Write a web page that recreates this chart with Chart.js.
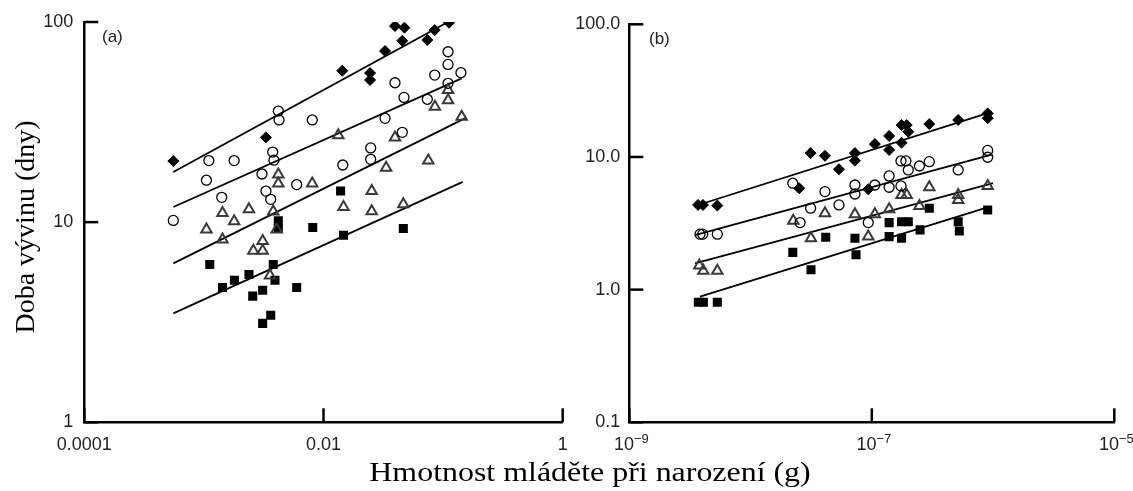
<!DOCTYPE html>
<html>
<head>
<meta charset="utf-8">
<script src="https://cdn.jsdelivr.net/npm/chart.js@4.4.0/dist/chart.umd.min.js"></script>
<style>
  html, body { margin:0; padding:0; background:#fff; }
  #wrap { position:relative; width:1133px; height:491px; overflow:hidden; background:#fff; }
  canvas { position:absolute; top:0; }
  #cA { left:0; }
  #cB { left:555px; }
  .lab { position:absolute; font-family:"Liberation Sans", Arial, sans-serif; font-size:17px; line-height:17px; color:#222; }
  .ttl { position:absolute; font-family:"Liberation Serif", "Times New Roman", serif; font-size:28px; line-height:28px; color:#000; white-space:nowrap; text-align:center; }
</style>
</head>
<body>
<div id="wrap">
  <canvas id="cA" width="580" height="470"></canvas>
  <canvas id="cB" width="578" height="470"></canvas>
  <div class="lab" style="left:102px; top:28px;">(a)</div>
  <div class="lab" style="left:649px; top:30px;">(b)</div>
  <div class="ttl" id="ytitle" style="left:-125px; top:213px; width:300px; transform:rotate(-90deg);">Doba vývinu (dny)</div>
  <div class="ttl" id="xtitle" style="left:290px; top:458px; width:600px; transform:scaleX(1.14);">Hmotnost mláděte při narození (g)</div>
</div>
<script>
// ---------- Panel (a) ----------
const aXTicks = [0.0001, 0.01, 1];
const aXLabels = ["0.0001", "0.01", "1"];
const aYTicks = [1, 10, 100];
const aYLabels = ["1", "10", "100"];

const aDiaX = [5.55e-4, 3.30e-3, 0.01436, 0.0245, 0.0245, 0.0327, 0.0396, 0.0475, 0.0456, 0.0738, 0.0851, 0.112];
const aDiaY = [20.2, 26.5, 57.1, 55.6, 51.3, 71.6, 95.5, 93.7, 80.6, 81.3, 91.2, 99.2];

const aCirX = [5.55e-4, 1.10e-3, 1.79e-3, 1.05e-3, 1.41e-3, 4.19e-3, 4.25e-3, 8.05e-3, 3.76e-3, 3.85e-3, 3.06e-3, 3.30e-3, 3.62e-3, 5.97e-3, 0.0145, 0.0248, 0.0248, 0.0327, 0.0396, 0.0456, 0.0471, 0.0738, 0.0851, 0.110, 0.110, 0.110, 0.141];
const aCirY = [10.2, 20.3, 20.3, 16.2, 13.3, 35.9, 32.4, 32.4, 22.4, 20.4, 17.4, 14.3, 13.0, 15.4, 19.3, 23.5, 20.6, 33.0, 49.7, 28.1, 42.0, 41.1, 54.3, 71.0, 61.4, 49.4, 55.8];

const aTriX = [1.05e-3, 1.43e-3, 1.43e-3, 1.79e-3, 2.38e-3, 2.59e-3, 3.10e-3, 3.10e-3, 3.57e-3, 3.80e-3, 4.06e-3, 4.19e-3, 4.19e-3, 8.05e-3, 0.0133, 0.0147, 0.0253, 0.0253, 0.0334, 0.0396, 0.0465, 0.0752, 0.0855, 0.110, 0.110, 0.143];
const aTriY = [9.19, 11.1, 8.19, 10.1, 11.6, 7.19, 8.06, 7.19, 5.41, 11.3, 9.19, 17.3, 15.6, 15.6, 27.2, 11.9, 14.3, 11.35, 18.7, 26.5, 12.3, 20.3, 37.7, 45.7, 40.7, 33.6];

const aSqX = [0.0139, 4.19e-3, 4.19e-3, 8.13e-3, 0.0465, 0.0147, 1.12e-3, 3.80e-3, 1.43e-3, 1.80e-3, 2.38e-3, 3.93e-3, 2.56e-3, 3.10e-3, 5.97e-3, 3.10e-3, 3.62e-3];
const aSqY = [14.3, 10.15, 9.30, 9.41, 9.30, 8.61, 6.14, 6.14, 4.72, 5.13, 5.48, 5.13, 4.27, 4.57, 4.72, 3.12, 3.43];

const aLineDiaX = [5.55e-4, 0.110], aLineDiaY = [17.8, 100];
const aLineCirX = [5.55e-4, 0.143], aLineCirY = [11.9, 52.3];
const aLineTriX = [5.55e-4, 0.152], aLineTriY = [6.22, 33.0];
const aLineSqX  = [5.55e-4, 0.146], aLineSqY  = [3.50, 15.9];

// ---------- Panel (b) ----------
const bXTicks = [1e-9, 1e-7, 1e-5];
const bXBase = ["10", "10", "10"];
const bXExp = ["\u22129", "\u22127", "\u22125"];
const bYTicks = [0.1, 1, 10, 100];
const bYLabels = ["0.1", "1.0", "10.0", "100.0"];

const bDiaX = [3.69e-9, 4.05e-9, 5.32e-9, 3.13e-8, 4.11e-8, 2.52e-8, 5.36e-8, 7.26e-8, 7.26e-8, 9.35e-8, 1.06e-7, 1.39e-7, 1.39e-7, 1.76e-7, 1.76e-7, 1.94e-7, 2.00e-7, 2.98e-7, 5.16e-7, 9.03e-7, 9.03e-7];
const bDiaY = [4.35, 4.35, 4.30, 10.7, 10.2, 5.81, 8.08, 10.7, 9.38, 5.71, 12.5, 14.4, 11.3, 12.8, 17.4, 17.4, 15.5, 17.7, 19.0, 21.3, 19.6];

const bCirX = [3.83e-9, 4.03e-9, 5.32e-9, 2.23e-8, 2.56e-8, 3.13e-8, 4.11e-8, 5.36e-8, 7.26e-8, 7.26e-8, 9.35e-8, 1.06e-7, 1.39e-7, 1.39e-7, 1.74e-7, 1.74e-7, 1.91e-7, 2.00e-7, 2.47e-7, 2.98e-7, 5.16e-7, 9.03e-7, 9.03e-7];
const bCirY = [2.62, 2.62, 2.62, 6.34, 3.20, 4.11, 5.48, 4.35, 6.15, 5.26, 3.20, 6.15, 7.19, 5.91, 6.05, 9.33, 9.33, 7.98, 8.55, 9.22, 7.98, 11.2, 9.95];

const bTriX = [3.78e-9, 4.08e-9, 5.32e-9, 2.25e-8, 3.15e-8, 4.11e-8, 7.26e-8, 9.35e-8, 1.06e-7, 1.39e-7, 1.76e-7, 1.94e-7, 2.47e-7, 2.98e-7, 5.16e-7, 5.16e-7, 9.03e-7];
const bTriY = [1.52, 1.39, 1.39, 3.31, 2.44, 3.76, 3.70, 2.51, 3.70, 4.04, 5.17, 5.17, 4.27, 5.91, 5.17, 4.74, 6.05];

const bSqX = [3.71e-9, 4.08e-9, 5.32e-9, 2.23e-8, 3.15e-8, 4.17e-8, 7.26e-8, 7.41e-8, 1.39e-7, 1.39e-7, 1.76e-7, 2.00e-7, 1.76e-7, 2.50e-7, 2.98e-7, 5.16e-7, 5.27e-7, 9.03e-7];
const bSqY = [0.804, 0.804, 0.804, 1.91, 1.41, 2.48, 2.44, 1.83, 3.20, 2.51, 3.25, 3.25, 2.44, 2.82, 4.11, 3.25, 2.77, 3.99];

const bLineDiaX = [3.48e-9, 9.75e-7], bLineDiaY = [4.27, 21.9];
const bLineCirX = [3.48e-9, 9.75e-7], bLineCirY = [2.58, 10.4];
const bLineTriX = [3.48e-9, 1.0e-6],  bLineTriY = [1.58, 6.34];
const bLineSqX  = [3.83e-9, 9.13e-7], bLineSqY  = [0.885, 4.18];

// ---------- helpers ----------
const pts = (xs, ys) => xs.map((x, i) => ({ x: x, y: ys[i] }));

const STYLES = {
  dia: { pointStyle: 'rectRot', pointRadius: 5.5, backgroundColor: '#000', borderColor: '#000', borderWidth: 1 },
  cir: { pointStyle: 'circle', pointRadius: 5, backgroundColor: 'rgba(255,255,255,0)', borderColor: '#000', borderWidth: 1.3 },
  tri: { pointStyle: 'triangle', pointRadius: 6, backgroundColor: 'rgba(255,255,255,0)', borderColor: '#3a3a3a', borderWidth: 2 },
  sq:  { pointStyle: 'rect', pointRadius: 6.4, backgroundColor: '#000', borderColor: '#000', borderWidth: 0 }
};

function scatterSet(xs, ys, st) {
  return Object.assign({ type: 'scatter', data: pts(xs, ys), showLine: false, pointHoverRadius: 0 }, STYLES[st]);
}
function lineSet(xs, ys) {
  return { type: 'line', data: pts(xs, ys), borderColor: '#000', borderWidth: 1.8, pointRadius: 0, fill: false, tension: 0 };
}

const FONT_FAMILY = '"Liberation Sans", Arial, sans-serif';
const tickFont = { family: FONT_FAMILY, size: 18 };

const innerTicks = {
  id: 'innerTicks',
  afterDraw(chart) {
    const { ctx, chartArea: a, scales } = chart;
    const x = scales.x, y = scales.y;
    ctx.save();
    ctx.strokeStyle = '#000';
    ctx.lineWidth = 2.5;
    ctx.lineCap = 'butt';
    x.ticks.forEach(t => {
      const px = x.getPixelForValue(t.value);
      ctx.beginPath(); ctx.moveTo(px, a.bottom); ctx.lineTo(px, a.bottom - 14); ctx.stroke();
    });
    y.ticks.forEach(t => {
      const py = y.getPixelForValue(t.value);
      ctx.beginPath(); ctx.moveTo(a.left, py); ctx.lineTo(a.left + 14, py); ctx.stroke();
    });
    // power-of-ten labels with superscript exponents
    const sup = chart.options.supLabels;
    if (sup) {
      ctx.fillStyle = '#222';
      ctx.textBaseline = 'alphabetic';
      ctx.textAlign = 'left';
      sup.ticks.forEach((v, i) => {
        const px = x.getPixelForValue(v);
        ctx.font = '18px ' + FONT_FAMILY;
        const wb = ctx.measureText(sup.base[i]).width;
        ctx.font = '13px ' + FONT_FAMILY;
        const we = ctx.measureText(sup.exp[i]).width;
        const x0 = px - (wb + we) / 2 + 2;
        const base = a.bottom + 28;
        ctx.font = '18px ' + FONT_FAMILY;
        ctx.fillText(sup.base[i], x0, base);
        ctx.font = '13px ' + FONT_FAMILY;
        ctx.fillText(sup.exp[i], x0 + wb, base - 7);
      });
    }
    ctx.restore();
  }
};

function makeChart(id, c) {
  const xT = c.xTicks, yT = c.yTicks;
  return new Chart(document.getElementById(id), {
    type: 'scatter',
    data: { datasets: c.datasets },
    plugins: [innerTicks],
    options: {
      responsive: false,
      animation: false,
      events: [],
      supLabels: c.sup || null,
      layout: { padding: c.pad },
      plugins: { legend: { display: false }, tooltip: { enabled: false } },
      scales: {
        x: {
          type: 'logarithmic', min: c.xMin, max: c.xMax,
          grid: { display: false, drawTicks: false },
          border: { display: true, color: '#000', width: 2.5 },
          afterBuildTicks: s => { s.ticks = xT.map(v => ({ value: v })); },
          afterFit: s => { s.height = 40; },
          ticks: {
            autoSkip: false, maxRotation: 0, padding: 12, color: '#222', font: tickFont,
            callback: (v) => {
              if (!c.xLabels) return '';
              const i = xT.findIndex(t => Math.abs(Math.log10(t) - Math.log10(v)) < 1e-6);
              return i >= 0 ? c.xLabels[i] : '';
            }
          }
        },
        y: {
          type: 'logarithmic', min: c.yMin, max: c.yMax,
          grid: { display: false, drawTicks: false },
          border: { display: true, color: '#000', width: 2.5 },
          afterBuildTicks: s => { s.ticks = yT.map(v => ({ value: v })); },
          afterFit: s => { s.width = c.yW; },
          ticks: {
            autoSkip: false, padding: c.yPad, color: '#222', font: tickFont,
            callback: (v) => { const i = yT.findIndex(t => Math.abs(Math.log10(t) - Math.log10(v)) < 1e-6); return i >= 0 ? c.yLabels[i] : ''; }
          }
        }
      }
    }
  });
}

makeChart('cA', {
  xMin: 0.0001, xMax: 1, yMin: 1, yMax: 100,
  xTicks: aXTicks, xLabels: aXLabels, yTicks: aYTicks, yLabels: aYLabels,
  pad: { left: 24.3, right: 17.3, top: 22, bottom: 7.7 },
  yW: 60, yPad: 11,
  datasets: [
    scatterSet(aDiaX, aDiaY, 'dia'),
    scatterSet(aCirX, aCirY, 'cir'),
    scatterSet(aTriX, aTriY, 'tri'),
    scatterSet(aSqX, aSqY, 'sq'),
    lineSet(aLineDiaX, aLineDiaY),
    lineSet(aLineCirX, aLineCirY),
    lineSet(aLineTriX, aLineTriY),
    lineSet(aLineSqX, aLineSqY)
  ]
});

makeChart('cB', {
  xMin: 1e-9, xMax: 1e-5, yMin: 0.1, yMax: 100,
  xTicks: bXTicks, xLabels: null, yTicks: bYTicks, yLabels: bYLabels,
  sup: { ticks: bXTicks, base: bXBase, exp: bXExp },
  pad: { left: 4.3, right: 18.7, top: 24.3, bottom: 7.7 },
  yW: 70, yPad: 9,
  datasets: [
    scatterSet(bDiaX, bDiaY, 'dia'),
    scatterSet(bCirX, bCirY, 'cir'),
    scatterSet(bTriX, bTriY, 'tri'),
    scatterSet(bSqX, bSqY, 'sq'),
    lineSet(bLineDiaX, bLineDiaY),
    lineSet(bLineCirX, bLineCirY),
    lineSet(bLineTriX, bLineTriY),
    lineSet(bLineSqX, bLineSqY)
  ]
});
</script>
</body>
</html>
